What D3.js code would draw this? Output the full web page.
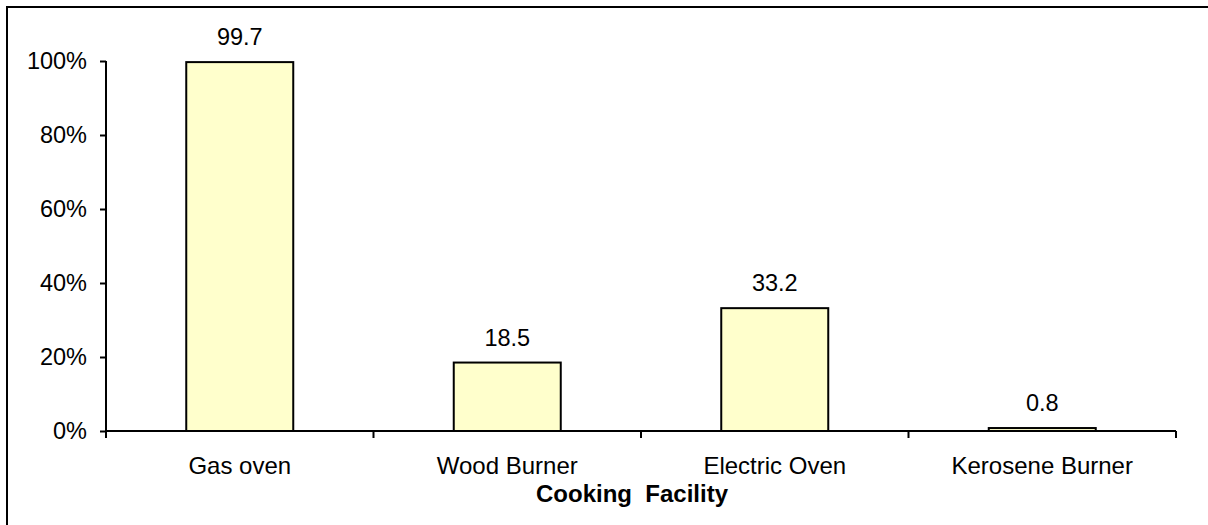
<!DOCTYPE html>
<meta charset="utf-8">
<script src="https://d3js.org/d3.v7.min.js"></script>
<style>
  body { margin: 0; background: #fff; }
  text { font-family: "Liberation Sans", Arial, sans-serif; fill: #000; }
</style>
<div id="chart"></div>
<script>
// values
var categories = ["Gas oven", "Wood Burner", "Electric Oven", "Kerosene Burner"];
var values = [99.7, 18.5, 33.2, 0.8];
var yTicks = [0, 20, 40, 60, 80, 100];
var xTitle = "Cooking\u00a0\u00a0Facility";

var W = 1208, H = 525;
var margin = {top: 61, right: 32, bottom: 94, left: 106},
    width = W - margin.left - margin.right,
    height = H - margin.top - margin.bottom;

var svg = d3.select("#chart").append("svg")
    .attr("width", W)
    .attr("height", H);

// outer frame (only top and left edges fall inside the picture)
svg.append("rect")
    .attr("x", 7).attr("y", 7)
    .attr("width", W + 20).attr("height", H + 20)
    .attr("fill", "none")
    .attr("stroke", "#000")
    .attr("stroke-width", 2);

var g = svg.append("g")
    .attr("transform", "translate(" + margin.left + "," + margin.top + ")");

var x = d3.scaleBand()
    .domain(categories)
    .range([0, width])
    .paddingInner(0.6)
    .paddingOuter(0.3);

var y = d3.scaleLinear()
    .domain([0, 100])
    .range([height, 0]);

// bars
g.selectAll(".bar")
  .data(values)
  .enter().append("rect")
    .attr("class", "bar")
    .attr("x", function(d, i) { return x(categories[i]); })
    .attr("y", function(d) { return y(d); })
    .attr("width", x.bandwidth())
    .attr("height", function(d) { return height - y(d); })
    .attr("fill", "#ffffcc")
    .attr("stroke", "#000")
    .attr("stroke-width", 2);

// value labels
g.selectAll(".val")
  .data(values)
  .enter().append("text")
    .attr("class", "val")
    .attr("x", function(d, i) { return x(categories[i]) + x.bandwidth() / 2; })
    .attr("y", function(d) { return y(d) - 17; })
    .attr("text-anchor", "middle")
    .style("font-size", "23.5px")
    .text(function(d) { return d; });

// y axis
var yAxis = g.append("g")
    .call(d3.axisLeft(y).tickValues(yTicks).tickSize(6).tickPadding(13)
      .tickFormat(function(d) { return d + "%"; }));
yAxis.select(".domain").attr("stroke-width", 2).attr("d", "M0," + height + "V0");
yAxis.selectAll(".tick line").attr("stroke-width", 2);
yAxis.selectAll("text").style("font-size", "23.5px").attr("font-family", null);

// x axis: ticks between categories
var edges = d3.range(categories.length + 1).map(function(i) { return i * width / categories.length; });
var xAxis = g.append("g").attr("transform", "translate(0," + height + ")");
xAxis.append("line")
    .attr("x1", 0).attr("x2", width)
    .attr("stroke", "#000").attr("stroke-width", 2);
xAxis.selectAll(".edge")
  .data(edges)
  .enter().append("line")
    .attr("x1", function(d) { return d; })
    .attr("x2", function(d) { return d; })
    .attr("y1", 0).attr("y2", 7)
    .attr("stroke", "#000").attr("stroke-width", 2);
xAxis.selectAll(".cat")
  .data(categories)
  .enter().append("text")
    .attr("x", function(d) { return x(d) + x.bandwidth() / 2; })
    .attr("y", 43)
    .attr("text-anchor", "middle")
    .style("font-size", "24px")
    .text(function(d) { return d; });

// axis title
g.append("text")
    .attr("x", width / 2 - 9)
    .attr("y", height + 71)
    .attr("text-anchor", "middle")
    .style("font-size", "24px")
    .style("font-weight", "bold")
    .text(xTitle);
</script>
